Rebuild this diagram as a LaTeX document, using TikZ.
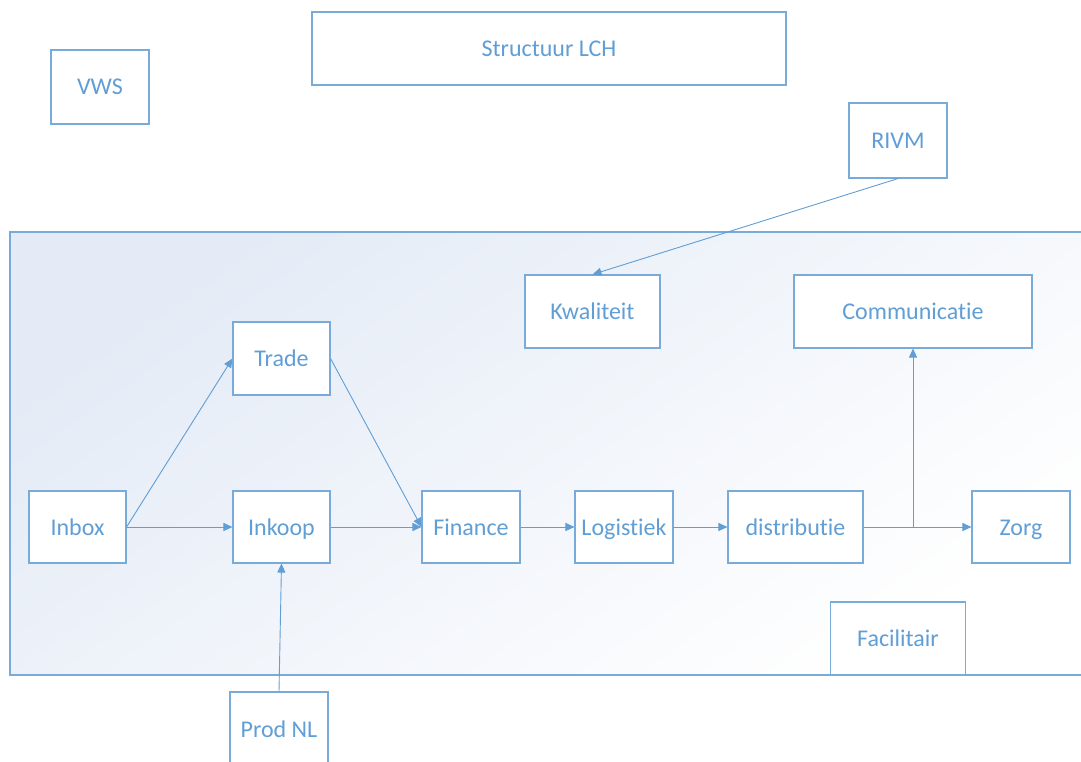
\documentclass[tikz,border=0pt]{standalone}
\usepackage{fontspec}
\setmainfont{Carlito}[Ligatures=NoCommon]
\usetikzlibrary{arrows.meta}
\definecolor{lchblue}{RGB}{96,158,214}
\definecolor{lchline}{RGB}{120,170,218}
\definecolor{lchshade}{RGB}{228,235,246}
\tikzset{
  unit/.style={draw=lchline,line width=1.1pt,fill=white,inner sep=0pt,
    text=lchblue,font=\fontsize{24}{28}\selectfont,
    text height=19pt,text depth=3pt},
  flow/.style={draw=lchblue,line width=0.9pt,-{Triangle[length=9pt,width=8pt]}}
}
\begin{document}
\begin{tikzpicture}[x=1pt,y=-1pt]
\useasboundingbox (0,0) rectangle (1081,762);
\clip (0,0) rectangle (1081,762);
\shade[top color=lchshade,middle color=lchshade!30!white,bottom color=white,shading angle=35] (10,232) rectangle (1095,675);
\draw[lchline,line width=1.3pt] (1095,232) -- (10,232) -- (10,675) -- (1095,675);
\node[unit,minimum width=98pt,minimum height=74pt] (vws) at (100,87) {VWS};
\node[unit,minimum width=474pt,minimum height=73pt] (lch) at (549,48.5) {Structuur LCH};
\node[unit,minimum width=98pt,minimum height=75pt] (rivm) at (898,140.5) {RIVM};
\node[unit,minimum width=135pt,minimum height=73pt] (kwal) at (592.5,311.5) {Kwaliteit};
\node[unit,minimum width=238pt,minimum height=73pt] (comm) at (913,311.5) {Communicatie};
\node[unit,minimum width=97pt,minimum height=73pt] (trade) at (281.5,358.5) {Trade};
\node[unit,minimum width=97pt,minimum height=72pt] (inbox) at (77.5,527) {Inbox};
\node[unit,minimum width=97pt,minimum height=72pt] (inkoop) at (281.5,527) {Inkoop};
\node[unit,minimum width=98pt,minimum height=72pt] (fin) at (471,527) {Finance};
\node[unit,minimum width=98pt,minimum height=72pt] (log) at (624,527) {Logistiek};
\node[unit,minimum width=135pt,minimum height=72pt] (distr) at (795.5,527) {distributie};
\node[unit,minimum width=98pt,minimum height=72pt] (zorg) at (1021,527) {Zorg};
\node[unit,minimum width=135pt,minimum height=73pt] (fac) at (898,638.5) {Facilitair};
\node[unit,minimum width=98pt,minimum height=74pt] (prod) at (279,729) {Prod NL};
\coordinate (split) at (913,527);
\draw[flow] (rivm.south) -- (kwal.north);
\draw[flow] (inbox.east) -- (trade.west);
\draw[flow] (inbox.east) -- (inkoop.west);
\draw[flow] (trade.east) -- (fin.west);
\draw[flow] (inkoop.east) -- (fin.west);
\draw[flow] (fin.east) -- (log.west);
\draw[flow] (log.east) -- (distr.west);
\draw[flow] (distr.east) -- (zorg.west);
\draw[flow] (split) -- (comm.south);
\draw[flow] (prod.north) -- (inkoop.south);
\end{tikzpicture}
\end{document}
